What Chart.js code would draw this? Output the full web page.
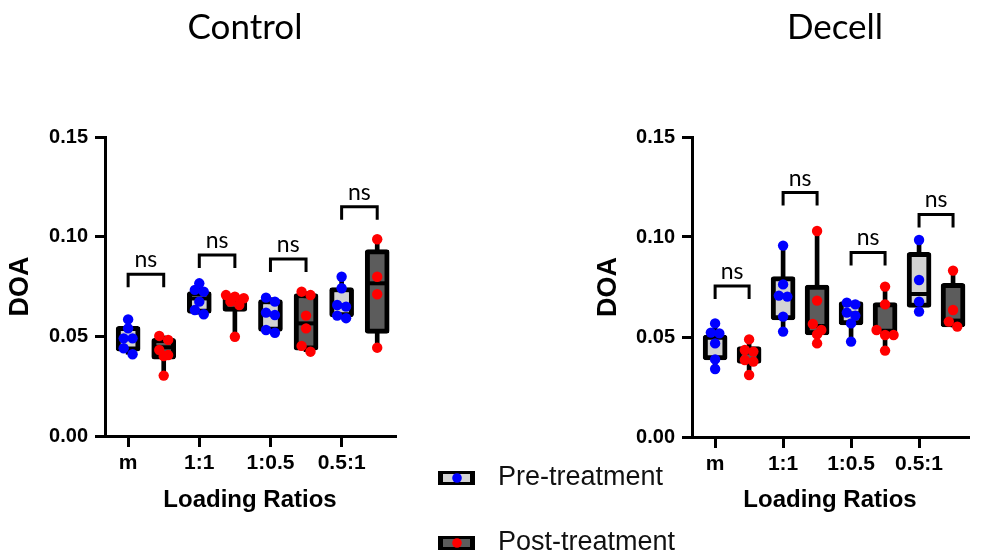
<!DOCTYPE html>
<html>
<head>
<meta charset="utf-8">
<script src="https://cdn.jsdelivr.net/npm/chart.js@4.4.1/dist/chart.umd.min.js"></script>
<style>
    html, body { margin: 0; padding: 0; background: #fff; }
    #wrap { position: relative; width: 981px; height: 554px; }
    #wrap canvas { position: absolute; left: 0; top: 0; }
</style>
</head>
<body>
<div id="wrap">
    <canvas id="controlChart" width="981" height="554"></canvas>
    <canvas id="decellChart" width="981" height="554"></canvas>
</div>
<script>
const ratios = ['m', '1:1', '1:0.5', '0.5:1']
const groups = ['Pre-treatment', 'Post-treatment']
const yTicks = [0, 0.05, 0.10, 0.15]

// box summaries per ratio: [min, q1, median, q3, max]
const controlPreBox = [
    [0.0410, 0.0425, 0.0490, 0.0550, 0.0585],
    [0.0611, 0.0615, 0.0690, 0.0725, 0.0766],
    [0.0518, 0.0525, 0.0610, 0.0685, 0.0694],
    [0.0591, 0.0598, 0.0655, 0.0745, 0.0799]
]
const controlPostBox = [
    [0.0303, 0.0385, 0.0445, 0.0490, 0.0502],
    [0.0498, 0.0625, 0.0680, 0.0705, 0.0707],
    [0.0423, 0.0430, 0.0565, 0.0715, 0.0724],
    [0.0443, 0.0515, 0.0766, 0.0935, 0.0987]
]
const decellPreBox = [
    [0.0340, 0.0385, 0.0500, 0.0510, 0.0568],
    [0.0527, 0.0585, 0.0707, 0.0802, 0.0957],
    [0.0477, 0.0560, 0.0618, 0.0677, 0.0677],
    [0.0627, 0.0648, 0.0715, 0.0923, 0.0985]
]
const decellPostBox = [
    [0.0310, 0.0368, 0.0423, 0.0452, 0.0488],
    [0.0468, 0.0510, 0.0555, 0.0760, 0.1030],
    [0.0432, 0.0518, 0.0525, 0.0672, 0.0752],
    [0.0550, 0.0550, 0.0582, 0.0768, 0.0832]
]

// individual samples
const controlPrePts = [
    [0.0585, 0.0540, 0.0490, 0.0490, 0.0440, 0.0410],
    [0.0766, 0.0733, 0.0724, 0.0674, 0.0632, 0.0611],
    [0.0694, 0.0674, 0.0619, 0.0607, 0.0532, 0.0518],
    [0.0799, 0.0741, 0.0657, 0.0649, 0.0604, 0.0591]
]
const controlPostPts = [
    [0.0502, 0.0482, 0.0432, 0.0406, 0.0401, 0.0303],
    [0.0707, 0.0699, 0.0691, 0.0674, 0.0657, 0.0498],
    [0.0724, 0.0707, 0.0604, 0.0540, 0.0452, 0.0423],
    [0.0987, 0.0799, 0.0711, 0.0443]
]
const decellPrePts = [
    [0.0568, 0.0522, 0.0518, 0.0468, 0.0388, 0.0340],
    [0.0957, 0.0763, 0.0707, 0.0702, 0.0602, 0.0527],
    [0.0672, 0.0663, 0.0622, 0.0607, 0.0568, 0.0477],
    [0.0985, 0.0785, 0.0677, 0.0627]
]
const decellPostPts = [
    [0.0488, 0.0435, 0.0427, 0.0385, 0.0377, 0.0310],
    [0.1030, 0.0682, 0.0565, 0.0535, 0.0513, 0.0468],
    [0.0752, 0.0663, 0.0535, 0.0510, 0.0510, 0.0432],
    [0.0832, 0.0635, 0.0577, 0.0552]
]

// height of the "ns" bracket over each pre/post pair
const controlBrackets = [0.0811, 0.0908, 0.0888, 0.1150]
const decellBrackets = [0.0755, 0.1222, 0.0923, 0.1113]

const fills = ['#d3d3d3', '#5c5c5c']
const dots = ['#0000ff', '#ff0000']

Chart.defaults.font.family = '"Liberation Sans", Arial, sans-serif'
Chart.defaults.color = '#000'

// spread samples of similar value side by side
function swarm(values, center) {
    let sorted = [...values].sort((a, b) => b - a)
    let out = []
    let i = 0
    while (i < sorted.length) {
        let j = i
        while (j + 1 < sorted.length && sorted[i] - sorted[j + 1] <= 0.0031) j++
        let k = j - i + 1
        for (let n = 0; n < k; n++) {
            out.push({x: center + (n - (k - 1) / 2) * 0.25, y: sorted[i + n]})
        }
        i = j + 1
    }
    return out
}

function panelDatasets(boxes, pts) {
    let sets = []
    boxes.forEach((box, s) => {
        let xs = box.map((b, i) => i * 2 + s)
        sets.push({
            type: 'bar', label: groups[s] + ' range',
            data: box.map((b, i) => ({x: xs[i], y: [b[0], b[4]]})),
            backgroundColor: '#000', barThickness: 4, grouped: false, order: 5
        })
        sets.push({
            type: 'bar', label: groups[s],
            data: box.map((b, i) => ({x: xs[i], y: [b[1], b[3]]})),
            backgroundColor: fills[s], borderColor: '#000', borderWidth: 5,
            borderSkipped: false, borderRadius: 3, barThickness: 24, grouped: false, order: 4
        })
        sets.push({
            type: 'scatter', label: groups[s] + ' median',
            data: box.map((b, i) => ({x: xs[i], y: b[2]})),
            pointStyle: 'line', radius: 9, borderColor: '#000', borderWidth: 4, order: 3
        })
        sets.push({
            type: 'scatter', label: groups[s] + ' samples',
            data: pts[s].flatMap((p, i) => swarm(p, xs[i])),
            backgroundColor: dots[s], borderWidth: 0, radius: 5.2, order: 1
        })
    })
    return sets
}

const panelExtras = {
    id: 'panelExtras',
    afterDraw(chart, args, opts) {
        const {ctx, scales: {x, y}} = chart
        ctx.save()
        ctx.fillStyle = '#000'
        ctx.strokeStyle = '#000'
        ctx.textAlign = 'center'

        ctx.font = '35px Lato'
        ctx.textBaseline = 'middle'
        ctx.fillText(opts.title, opts.titleX, 28)

        ctx.lineWidth = 3
        ctx.lineJoin = 'miter'
        opts.brackets.forEach((h, i) => {
            let x0 = x.getPixelForValue(i * 2)
            let x1 = x.getPixelForValue(i * 2 + 1)
            let yp = y.getPixelForValue(h)
            ctx.beginPath()
            ctx.moveTo(x0, yp + 13)
            ctx.lineTo(x0, yp)
            ctx.lineTo(x1, yp)
            ctx.lineTo(x1, yp + 13)
            ctx.stroke()
            ctx.font = '23px Lato'
            ctx.textBaseline = 'alphabetic'
            ctx.fillText('ns', (x0 + x1) / 2, yp - 7)
        })

        if (opts.legend) {
            let rows = [478, 543]
            groups.forEach((g, s) => {
                let cy = rows[s]
                ctx.fillStyle = '#000'
                ctx.fillRect(438, cy - 7, 37, 14)
                ctx.fillStyle = fills[s]
                ctx.fillRect(443, cy - 4, 27, 8)
                ctx.fillStyle = dots[s]
                ctx.beginPath()
                ctx.arc(457, cy, 4.8, 0, Math.PI * 2)
                ctx.fill()
                ctx.fillStyle = '#111'
                ctx.font = '27px "Liberation Sans", Arial, sans-serif'
                ctx.textAlign = 'left'
                ctx.textBaseline = 'middle'
                ctx.fillText(g, 498, cy)
            })
        }
        ctx.restore()
    }
}

function makeConfig(boxes, pts, extras, layout) {
    return {
        type: 'bar',
        data: {datasets: panelDatasets(boxes, pts)},
        plugins: [panelExtras],
        options: {
            responsive: false,
            animation: false,
            events: [],
            layout: {padding: layout.padding},
            plugins: {
                legend: {display: false},
                tooltip: {enabled: false},
                panelExtras: extras
            },
            scales: {
                x: {
                    type: 'linear', min: layout.xMin, max: layout.xMax, offset: false,
                    afterBuildTicks: s => { s.ticks = ratios.map((r, i) => ({value: i * 2})) },
                    afterFit: s => { s.height = layout.xHeight },
                    ticks: {
                        callback: v => ratios[v / 2],
                        font: {size: 21, weight: 'bold'}, color: '#000',
                        padding: 4, autoSkip: false, maxRotation: 0
                    },
                    grid: {drawOnChartArea: false, offset: false, tickLength: 11, color: '#000', lineWidth: 3},
                    border: {color: '#000', width: 3},
                    title: {
                        display: true, text: 'Loading Ratios', color: '#000',
                        font: {size: 24, weight: 'bold'}, padding: {top: 0, bottom: 39}
                    }
                },
                y: {
                    min: 0, max: 0.15,
                    afterBuildTicks: s => { s.ticks = yTicks.map(v => ({value: v})) },
                    afterFit: s => { s.width = layout.yWidth },
                    ticks: {
                        callback: v => v.toFixed(2),
                        font: {size: 20, weight: 'bold'}, color: '#000', padding: 7
                    },
                    grid: {drawOnChartArea: false, tickLength: 10, color: '#000', lineWidth: 3},
                    border: {color: '#000', width: 3},
                    title: {
                        display: true, text: 'DOA', color: '#000',
                        font: {size: 27, weight: 'bold'}, padding: {top: 4, bottom: 0}
                    }
                }
            }
        }
    }
}

new Chart(document.getElementById('controlChart'), makeConfig(
    [controlPreBox, controlPostBox], [controlPrePts, controlPostPts],
    {title: 'Control', titleX: 245, brackets: controlBrackets, legend: false},
    {padding: {top: 137, left: 0, right: 586, bottom: 0}, xMin: -0.65, xMax: 7.5, xHeight: 118, yWidth: 105}
))

new Chart(document.getElementById('decellChart'), makeConfig(
    [decellPreBox, decellPostBox], [decellPrePts, decellPostPts],
    {title: 'Decell', titleX: 835, brackets: decellBrackets, legend: true},
    {padding: {top: 137, left: 588, right: 1, bottom: 0}, xMin: -0.68, xMax: 7.44, xHeight: 117, yWidth: 104}
))
</script>
</body>
</html>
